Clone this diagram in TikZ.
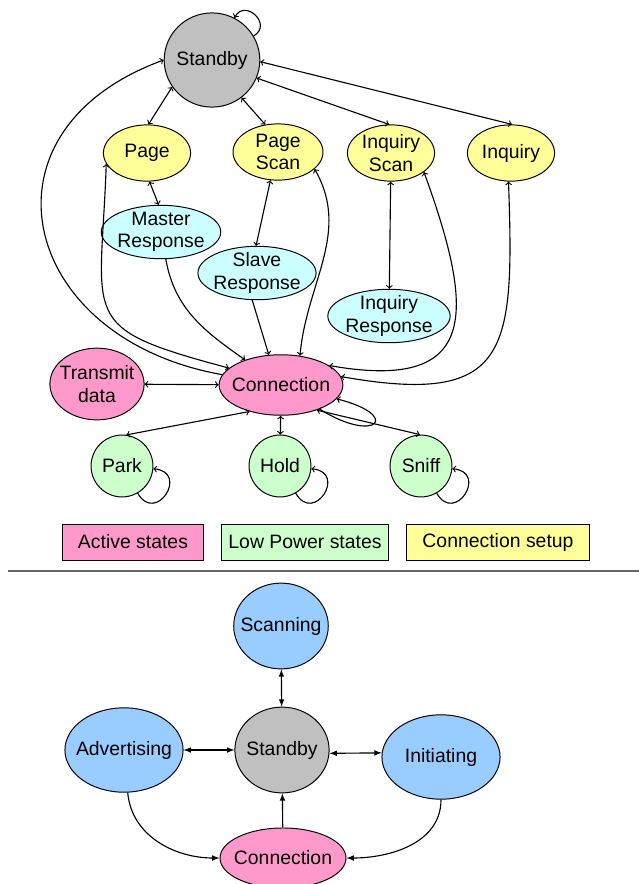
\documentclass[tikz,border=0pt]{standalone}
\usepackage{fontspec}
\setmainfont{Liberation Sans}
\usetikzlibrary{shapes.geometric,arrows}

\definecolor{idlegray}{HTML}{C0C0C0}
\definecolor{setupyellow}{HTML}{FFFF99}
\definecolor{respcyan}{HTML}{CCFFFF}
\definecolor{activepink}{HTML}{FF99CC}
\definecolor{lowgreen}{HTML}{CCFFCC}
\definecolor{leblue}{HTML}{99CCFF}

\tikzset{
  state/.style={ellipse,draw,line width=0.7pt,inner xsep=-5pt,inner ysep=-2pt,
    align=center,font=\fontsize{13.8}{16}\selectfont},
  idle/.style={state,fill=idlegray,minimum width=68pt,minimum height=67pt},
  setup/.style={state,fill=setupyellow,minimum width=62pt,minimum height=40pt},
  resp/.style={state,fill=respcyan,minimum height=38pt},
  active/.style={state,fill=activepink},
  lowpower/.style={state,fill=lowgreen,minimum width=44pt,minimum height=44pt},
  lestate/.style={state,fill=leblue,minimum width=84pt,minimum height=60pt},
  legend/.style={rectangle,draw,line width=0.7pt,minimum height=25.6pt,
    font=\fontsize{13.8}{16}\selectfont},
  link/.style={line width=0.8pt},
}

\begin{document}
\begin{tikzpicture}[x=0.025cm,y=-0.025cm]
\useasboundingbox (0,0) rectangle (639,884);

% classic states
\node[idle] (standby) at (212,60) {Standby};
\node[setup] (page) at (147,153) {Page};
\node[setup,minimum width=64pt] (pagescan) at (278,152) {Page\\Scan};
\node[setup] (inqscan) at (391,153) {Inquiry\\Scan};
\node[setup] (inquiry) at (511,153) {Inquiry};
\node[resp,minimum width=85pt] (master) at (161,232) {Master\\Response};
\node[resp,minimum width=84pt] (slave) at (257,273) {Slave\\Response};
\node[resp,minimum width=87pt] (inqresp) at (389,316) {Inquiry\\Response};
\node[active,minimum width=67pt,minimum height=51pt] (transmit) at (97,384) {Transmit\\data};
\node[active,minimum width=88pt,minimum height=43pt] (conn) at (281,385) {Connection};
\node[lowpower] (park) at (122,466) {Park};
\node[lowpower] (hold) at (280,466) {Hold};
\node[lowpower] (sniff) at (421,466) {Sniff};

\draw[link] (standby) edge[->,loop,out=30,in=62,min distance=16pt] (standby)
  (standby.214) edge[<->] (page.87)
  (standby.-52) edge[<->] (pagescan.115)
  (standby.-22) edge[<->] (inqscan.94)
  (standby.-2) edge[<->] (inquiry.88)
  (page.-85) edge[<->] (master.95)
  (pagescan.-105) edge[<->] (slave.92)
  (inqscan) edge[<->] (inqresp)
  (conn) edge[->,out=170,in=200,looseness=1.65] (standby.180)
  (conn.162) edge[<->,out=165,in=268,looseness=1.7] (page.195)
  (master) edge[->,out=-80,in=145] (conn)
  (slave.260) edge[->] (conn.112)
  (pagescan.-25) edge[<->,out=-60,in=85] (conn.57)
  (inqscan.-30) edge[<->,out=-70,in=-10,looseness=1.8] (conn.22)
  (inquiry.-95) edge[<->,out=-88,in=-10,looseness=1.7] (conn.8)
  (conn) edge[->,loop,out=-32,in=-14,min distance=48pt] (conn)
  (transmit) edge[<->] (conn)
  (conn.-140) edge[<->] (park.82)
  (conn) edge[<->] (hold)
  (conn.-35) edge[<->] (sniff.92)
  (park) edge[->,loop,out=-60,in=-5,min distance=26pt] (park)
  (hold) edge[->,loop,out=-60,in=-5,min distance=26pt] (hold)
  (sniff) edge[->,loop,out=-60,in=-5,min distance=26pt] (sniff);

% legend
\node[legend,fill=activepink,minimum width=99.6pt] (keyactive) at (133,542) {Active states};
\node[legend,fill=lowgreen,minimum width=118.8pt] (keylow) at (305,542) {Low Power states};
\node[legend,fill=setupyellow,minimum width=129.5pt] (keysetup) at (498,542) {Connection setup};

\draw[gray!80!black,line width=1.3pt] (8,571) -- (639,571);

% low energy states
\node[lestate,minimum width=67pt,minimum height=61pt] (scan) at (281,626) {Scanning};
\node[idle,minimum width=67pt,minimum height=61pt] (bstandby) at (282,750) {Standby};
\node[lestate] (adv) at (124,750) {Advertising};
\node[lestate] (init) at (441,757) {Initiating};
\node[active,minimum width=89.6pt,minimum height=42.7pt] (bconn) at (283,858) {Connection};

\draw[link] (scan) edge[latex-latex] (bstandby)
  (adv) edge[latex-latex] (bstandby)
  (bstandby.-4) edge[latex-latex] (init.176)
  (bconn) edge[-latex] (bstandby)
  (adv) edge[-latex,out=-85,in=180] (bconn)
  (init) edge[-latex,out=-90,in=0] (bconn);

\end{tikzpicture}
\end{document}
